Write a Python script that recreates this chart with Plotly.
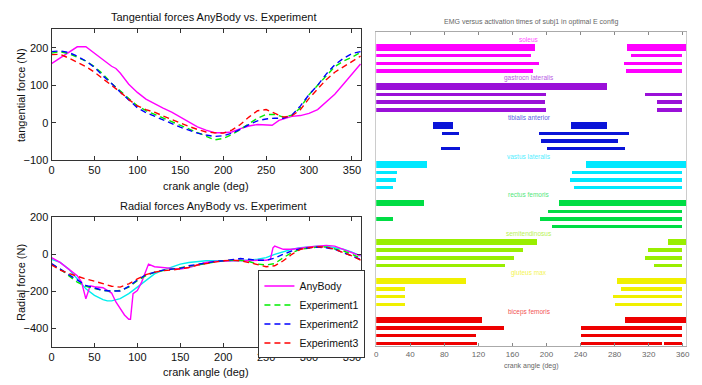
import plotly.graph_objects as go

# ---------------- data: tangential forces ----------------
ang = [0, 10, 20, 30, 40, 50, 60, 70, 80, 90, 100, 110, 120, 130, 140, 150, 160, 170, 180,
       190, 200, 210, 220, 230, 240, 250, 260, 270, 280, 290, 300, 310, 320, 330, 340, 350, 360]

tan_any_x = [0, 10, 20, 30, 40, 50, 60, 70, 75, 80, 90, 100, 110, 120, 130, 140, 150, 160, 170, 180,
             190, 200, 210, 220, 230, 240, 250, 257, 265, 270, 280, 290, 300, 310, 320, 330, 340, 350, 360]
tan_any = [158, 173, 190, 203, 203, 186, 168, 151, 145, 133, 103, 81, 63, 50, 39, 28, 15, 2, -11, -20,
           -27, -27, -25, -16, -9, -5, -5, -7, 6, 10, 17, 19, 25, 35, 56, 76, 103, 129, 157]
tan_exp1 = [186, 190, 185, 175, 165, 150, 130, 105, 85, 65, 45, 32, 22, 12, 3, -8, -18, -28, -38,
            -46, -42, -32, -18, -2, 12, 22, 22, 15, 20, 40, 75, 100, 125, 150, 165, 175, 188]
tan_exp2 = [190, 192, 188, 178, 165, 148, 125, 105, 82, 62, 40, 27, 17, 8, -2, -12, -20, -28, -33,
            -37, -35, -28, -18, -5, 5, 10, 12, 12, 20, 45, 75, 100, 130, 155, 172, 185, 190]
tan_exp3 = [182, 183, 173, 162, 150, 135, 118, 100, 82, 62, 45, 35, 28, 18, 8, 0, -10, -18, -25,
            -27, -28, -20, -5, 15, 32, 35, 25, 15, 18, 35, 65, 90, 115, 135, 150, 163, 178]

# ---------------- data: radial forces ----------------
rad_any_x = [0, 10, 20, 30, 35, 40, 45, 50, 60, 65, 70, 75, 80, 85, 90, 92, 95, 100, 105, 110, 113,
             120, 130, 140, 150, 160, 170, 180, 190, 200, 210, 220, 230, 240, 250, 255, 258, 260,
             270, 280, 290, 300, 310, 320, 330, 340, 350, 360]
rad_any = [-18, -44, -80, -115, -150, -240, -170, -175, -180, -195, -209, -257, -292, -327, -350, -350,
           -212, -195, -150, -88, -53, -67, -71, -76, -80, -71, -57, -44, -39, -39, -35, -32, -35, -32,
           -32, -27, 35, 44, 27, 27, 35, 39, 44, 48, 44, 27, 9, -9]
rad_cyan_x = [0, 5, 10, 20, 30, 40, 50, 60, 65, 70, 80, 90, 100, 110, 120, 130, 140, 150, 160, 170,
              180, 200, 220, 240, 250, 260, 270, 280, 290, 300, 310, 320, 330, 340, 350, 360]
rad_cyan = [-27, -35, -44, -80, -133, -186, -221, -244, -251, -251, -239, -212, -177, -142, -106, -85,
            -67, -53, -44, -39, -35, -35, -35, -27, -18, 0, 14, 27, 35, 41, 44, 44, 35, 27, 12, -9]
rad_exp1 = [-53, -80, -115, -150, -173, -186, -195, -198, -195, -177, -142, -115, -97, -88, -80, -76,
            -67, -57, -50, -41, -35, -32, -32, -39, -53, -57, -50, -18, 9, 27, 35, 39, 39, 30, 18, 0, -21]
rad_exp2 = [-50, -80, -110, -142, -168, -181, -195, -198, -198, -173, -138, -110, -97, -85, -80, -76,
            -62, -53, -44, -39, -35, -27, -23, -27, -32, -32, -21, 0, 18, 30, 35, 39, 35, 27, 9, -9, -27]
rad_exp3 = [-57, -85, -103, -120, -133, -145, -159, -172, -177, -159, -133, -110, -97, -88, -85, -80,
            -71, -58, -50, -41, -35, -32, -35, -44, -57, -67, -62, -35, 0, 27, 35, 41, 39, 27, 9, -9, -32]

# ---------------- data: EMG activation intervals ----------------
muscles = ["soleus", "gastrocn lateralis", "tibialis anterior", "vastus lateralis",
           "rectus femoris", "semitendinosus", "gluteus max", "biceps femoris"]
muscle_colors = ["#ff00ff", "#9a10d8", "#0a14d8", "#00e8ff", "#00dd44", "#99ee00", "#f0f000", "#ee0000"]
soleus_rows = [[(0, 187), (295, 364)], [(0, 182), (299, 360)], [(0, 192), (291, 360)], [(0, 184), (294, 360)]]
gastroc_rows = [[(0, 271)], [(0, 200), (316, 360)], [(0, 198), (330, 360)], [(0, 200), (330, 360)]]
tibialis_rows = [[(67, 90), (229, 271)], [(77, 98), (192, 297)], [(194, 284)], [(76, 99), (201, 293)]]
vastus_rows = [[(0, 60), (247, 364)], [(0, 25), (230, 360)], [(0, 24), (228, 360)], [(0, 20), (232, 360)]]
rectus_rows = [[(0, 56), (215, 364)], [(202, 360)], [(0, 20), (193, 360)], [(207, 360)]]
semitend_rows = [[(0, 189), (343, 364)], [(0, 173), (320, 360)], [(0, 162), (316, 360)], [(0, 152), (326, 360)]]
gluteus_rows = [[(0, 106), (283, 364)], [(0, 34), (288, 360)], [(0, 34), (278, 360)], [(0, 34), (281, 360)]]
biceps_rows = [[(0, 124), (293, 364)], [(0, 150), (241, 360)], [(0, 118), (241, 360)],
               [(0, 119), (241, 336), (338, 360)]]
all_rows = [soleus_rows, gastroc_rows, tibialis_rows, vastus_rows,
            rectus_rows, semitend_rows, gluteus_rows, biceps_rows]
emg_ticks = [0, 40, 80, 120, 160, 200, 240, 280, 320, 360]

FONT = "Liberation Sans, Arial"
DASH = "6px,4px"

fig = go.Figure()
rank = {"AnyBody": 1, "Experiment1": 2, "Experiment2": 3, "Experiment3": 4}

def add_line(x, y, color, dash, name, ax, show):
    fig.add_trace(go.Scatter(x=x, y=y, mode="lines", name=name, showlegend=show,
                             line=dict(color=color, width=1.4, dash=dash),
                             xaxis="x" + ax, yaxis="y" + ax, legendrank=rank.get(name, 9)))

# top subplot
add_line(tan_any_x, tan_any, "#ff00ff", "solid", "AnyBody", "", False)
add_line(ang, tan_exp1, "#00ee00", DASH, "Experiment1", "", False)
add_line(ang, tan_exp2, "#0000ff", DASH, "Experiment2", "", False)
add_line(ang, tan_exp3, "#ff0000", DASH, "Experiment3", "", False)
# bottom subplot
add_line(rad_cyan_x, rad_cyan, "#00eeee", "solid", "cyan", "2", False)
add_line(rad_any_x, rad_any, "#ff00ff", "solid", "AnyBody", "2", True)
add_line(ang, rad_exp1, "#00ee00", DASH, "Experiment1", "2", True)
add_line(ang, rad_exp2, "#0000ff", DASH, "Experiment2", "2", True)
add_line(ang, rad_exp3, "#ff0000", DASH, "Experiment3", "2", True)

# EMG bars
for g, rows in enumerate(all_rows):
    for r, segs in enumerate(rows):
        yrow = 2 + 5 * g + r
        fig.add_trace(go.Bar(
            orientation="h",
            y=[yrow] * len(segs),
            x=[b - a for a, b in segs],
            base=[a for a, b in segs],
            width=[0.8 if r == 0 else 0.42] * len(segs),
            marker=dict(color=muscle_colors[g], line=dict(width=0)),
            showlegend=False, xaxis="x3", yaxis="y3", hoverinfo="skip"))

W, H = 702, 385
def px_x(p):
    return p / W
def px_y(p):
    return 1 - p / H

axis_common = dict(showline=True, linecolor="#333", linewidth=1, mirror="ticks", ticks="inside",
                   ticklen=4, tickcolor="#333", showgrid=False, zeroline=False,
                   tickfont=dict(family=FONT, size=11, color="#111"))

fig.update_layout(
    width=W, height=H, margin=dict(l=0, r=0, t=0, b=0),
    paper_bgcolor="white", plot_bgcolor="white", barmode="overlay", bargap=0,
    font=dict(family=FONT, size=11, color="#111"),
    xaxis=dict(domain=[px_x(49), px_x(362)], range=[0, 361], tickvals=[0, 50, 100, 150, 200, 250, 300, 350],
               anchor="y", **axis_common),
    yaxis=dict(domain=[px_y(159), px_y(24)], range=[-100, 250], tickvals=[-100, 0, 100, 200],
               anchor="x", **axis_common),
    xaxis2=dict(domain=[px_x(49), px_x(362)], range=[0, 361], tickvals=[0, 50, 100, 150, 200, 250, 300, 350],
                anchor="y2", **axis_common),
    yaxis2=dict(domain=[px_y(352), px_y(218)], range=[-500, 200], tickvals=[-400, -200, 0, 200],
                anchor="x2", **axis_common),
    xaxis3=dict(domain=[px_x(377), px_x(690)], range=[0, 364], tickvals=emg_ticks, anchor="y3",
                showline=True, linecolor="#aaaaaa", linewidth=1, mirror="ticks", ticks="inside",
                ticklen=3, tickcolor="#888", showgrid=False, zeroline=False, ticklabeloverflow="allow",
                tickfont=dict(family=FONT, size=8, color="#666")),
    yaxis3=dict(domain=[px_y(351), px_y(27)], range=[40.3, 0], anchor="x3", showticklabels=False,
                showline=True, linecolor="#cccccc", linewidth=1, mirror=True, ticks="",
                showgrid=False, zeroline=False),
    legend=dict(x=px_x(258), y=px_y(273), xanchor="left", yanchor="top",
                bordercolor="#333", borderwidth=1, bgcolor="white",
                font=dict(family=FONT, size=10.5, color="#111"), tracegroupgap=0,
                itemwidth=30),
)

ann = []
def text(x, y, s, size=11, color="#111", angle=0):
    ann.append(dict(x=px_x(x), y=px_y(y), xref="paper", yref="paper", text=s, showarrow=False,
                    font=dict(family=FONT, size=size, color=color), textangle=angle,
                    xanchor="center", yanchor="middle"))

text(213, 11, "Tangential forces AnyBody vs. Experiment", 11)
text(205, 186, "crank angle (deg)", 11)
text(212, 206, "Radial forces AnyBody vs. Experiment", 11)
text(205, 378, "crank angle (deg)", 11)
text(18, 92, "tangential force (N)", 11, angle=-90)
text(18, 285, "Radial force (N)", 11, angle=-90)
text(533, 16, "EMG versus activation times of subj1 in optimal E config", 7, "#666")
text(533, 372, "crank angle (deg)", 7, "#666")

for g, name in enumerate(muscles):
    ann.append(dict(x=180, y=1 + 5 * g - 0.1, xref="x3", yref="y3", text=name, showarrow=False,
                    font=dict(family=FONT, size=6.5, color=muscle_colors[g]),
                    xanchor="center", yanchor="middle", opacity=0.7))

fig.update_layout(annotations=ann)
fig.write_html("out.html", config={"displayModeBar": False},
               post_script="document.body.style.margin='0';document.body.style.overflow='hidden';")
